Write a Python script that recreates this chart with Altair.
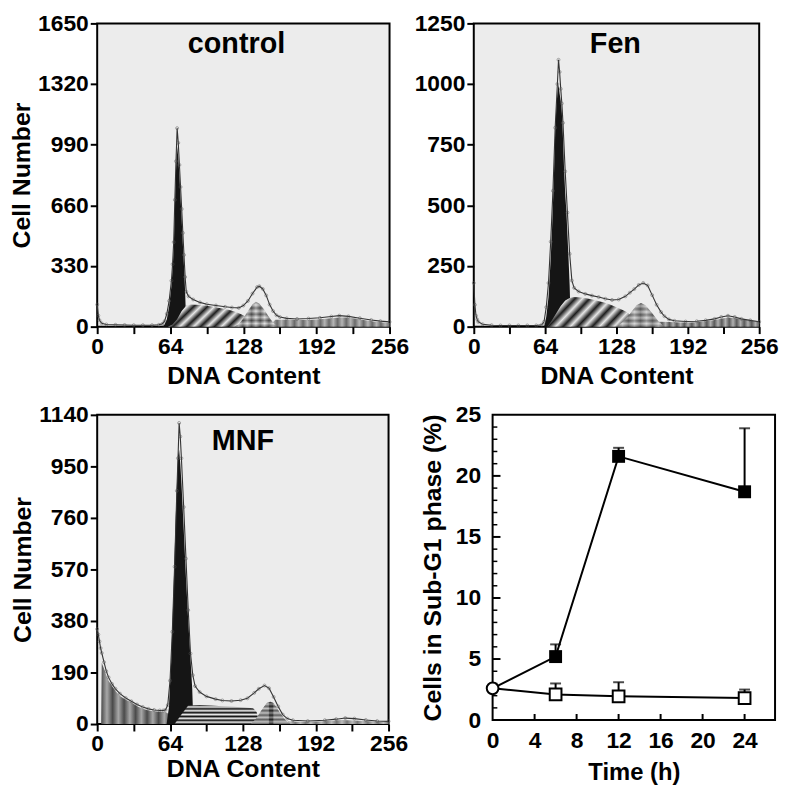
import altair as alt
import pandas as pd

FONT = "Liberation Sans"
BG = "#ececec"

# ---------------- data ----------------
# control histogram (channel, cell count)
CTRL_RAW = [(0,120),(1,60),(2,35),(4,18),(8,12),(16,10),(24,9),(32,8),(40,8),(48,8),(54,10),(57,15),(59,30),(61,70),(63,140),
            (65,250),(66,340),(67,460),(68,690),(69,900),(70,1080),(71,1000),(72,880),(73,760),(74,640),(75,510),(76,390),
            (77,270),(78,190),(80,165),(84,148),(90,132),(96,122),(104,115),(112,108),(118,104),(124,102),(128,115),
            (132,140),(136,180),(140,215),(142,220),(145,205),(148,170),(151,120),(154,85),(157,62),(160,52),(166,45),
            (175,42),(185,44),(195,48),(205,55),(212,60),(220,56),(230,46),(240,36),(248,30),(256,26)]
CTRL_G1 = [(57,0),(59,12),(61,40),(63,110),(65,220),(66,310),(67,420),(68,650),(69,850),(70,980),(71,920),(72,820),
           (73,700),(74,580),(75,450),(76,330),(77,190),(78,0)]
CTRL_S = [(62,0),(66,12),(70,40),(74,85),(78,115),(82,120),(90,118),(100,110),(108,100),(116,90),(122,78),(126,68),
          (130,55),(134,38),(138,18),(142,0)]
CTRL_G2 = [(120,0),(124,15),(128,45),(132,85),(136,120),(139,135),(142,125),(146,95),(150,55),(154,22),(158,0)]
CTRL_DEB = [(150,0),(156,38),(165,38),(175,36),(185,36),(195,40),(205,46),(212,50),(218,50),(224,46),(232,38),
            (240,30),(248,24),(256,20)]

# Fen histogram
FEN_RAW = [(0,180),(1,90),(2,45),(3,30),(4,20),(8,10),(16,6),(24,5),(32,5),(40,5),(48,5),(56,5),(61,8),(63,20),
           (65,80),(67,180),(69,350),(71,560),(73,820),(75,1000),(76,1100),(77,1050),(78,980),(79,920),(80,840),
           (82,640),(84,470),(86,300),(88,190),(90,160),(94,145),(100,135),(106,128),(112,122),(118,115),(124,110),
           (130,112),(136,125),(140,140),(144,155),(148,172),(152,180),(156,170),(160,130),(164,90),(168,60),
           (171,43),(175,30),(180,24),(190,21),(200,22),(208,26),(216,32),(222,40),(228,45),(234,40),(240,32),
           (248,26),(256,20)]
FEN_G1 = [(63,0),(65,40),(67,120),(69,280),(70,380),(71,500),(72,640),(73,800),(74,900),(75,960),(76,1000),(77,960),
          (78,930),(79,880),(80,780),(81,650),(82,550),(83,480),(84,380),(85,280),(86,170),(87,0)]
FEN_S = [(66,0),(70,25),(74,55),(78,85),(82,108),(86,118),(90,122),(100,118),(110,108),(120,95),(128,80),(134,68),
         (138,58),(142,40),(146,15),(150,0)]
FEN_G2 = [(128,0),(134,20),(140,52),(146,88),(150,97),(154,88),(160,55),(166,20),(171,0)]
FEN_DEB = [(162,0),(166,20),(175,19),(185,17),(195,17),(205,20),(215,26),(222,33),(228,38),(235,35),(245,27),(256,19)]

# MNF histogram
MNF_RAW = [(0,350),(1,330),(2,305),(3,280),(4,262),(6,228),(8,195),(10,172),(13,148),(16,130),(20,112),(25,96),
           (30,84),(35,72),(40,63),(45,56),(50,52),(55,50),(58,50),(60,52),(62,70),(64,160),(66,340),(68,580),
           (70,860),(71,980),(72,1110),(73,1060),(74,980),(76,800),(78,610),(80,420),(82,260),(84,180),(86,140),
           (90,118),(96,102),(104,92),(110,87),(118,85),(126,88),(132,95),(138,115),(142,130),(147,142),(151,132),
           (155,100),(159,65),(163,35),(167,20),(172,14),(185,11),(200,14),(210,18),(218,22),(226,20),(236,15),
           (246,11),(256,10)]
MNF_SUB = [(3.5,0),(4,225),(6,205),(8,180),(10,160),(13,140),(16,122),(20,103),(25,90),(30,80),(35,66),(40,56),
           (45,50),(50,47),(55,45),(60,44),(62,40),(64,0)]
MNF_G1 = [(61,0),(63,60),(65,230),(67,480),(69,760),(71,990),(72,1010),(73,960),(74,890),(76,720),(78,540),
          (80,380),(82,240),(83.5,130),(84.5,0)]
MNF_S = [(68,0),(74,35),(80,68),(90,70),(100,68),(110,66),(120,64),(130,61),(137,58),(140,45),(143,0)]
MNF_G2 = [(135,0),(140,22),(145,55),(149,78),(152,82),(155,78),(158,58),(162,32),(166,12),(170,0)]
MNF_DEB = [(165,0),(168,10),(180,8),(200,10),(215,15),(230,12),(245,9),(256,8)]

CTRL_TICKS = [0, 330, 660, 990, 1320, 1650]
FEN_TICKS = [0, 250, 500, 750, 1000, 1250]
MNF_TICKS = [0, 190, 380, 570, 760, 950, 1140]
CH_TICKS = [0, 32, 64, 96, 128, 160, 192, 224, 256]

# time course of sub-G1 cells (%)
TIME_H = [0, 6, 12, 24]
TREAT_MEAN = [2.6, 5.2, 21.6, 18.7]
TREAT_UPPER = [2.6, 6.2, 22.3, 23.9]
CTRL_MEAN = [2.6, 2.1, 1.95, 1.8]
CTRL_UPPER = [2.6, 3.0, 3.1, 2.5]
T_TICKS = [0, 4, 8, 12, 16, 20, 24]
P_TICKS = [0, 5, 10, 15, 20, 25]
P_MINOR = [v for v in range(1, 25) if v % 5 != 0]


# ---------------- styling helpers ----------------
def stripes(c1, c2, n, x2, y2, x1=0, y1=0):
    stops = []
    for i in range(n):
        stops.append({"offset": i / n, "color": c1})
        stops.append({"offset": (i + 0.5) / n, "color": c2})
    stops.append({"offset": 1, "color": c1})
    return {"gradient": "linear", "x1": x1, "y1": y1, "x2": x2, "y2": y2, "stops": stops}


def df(pairs):
    return pd.DataFrame(pairs, columns=["ch", "n"])


def hist_panel(raw, layers, ymax, yticks, label, label_pos, w, h, ytitle, xtitle_pad):
    xs = alt.X("ch:Q", scale=alt.Scale(domain=[0, 256], nice=False, zero=False),
               axis=alt.Axis(values=CH_TICKS, labelExpr="datum.value % 64 == 0 ? datum.label : ''",
                             format="d", labelFlush=False, labelOverlap=False,
                             tickSize=7, tickWidth=2, tickColor="black", domain=False, grid=False,
                             labelFont=FONT, labelFontSize=23, labelFontWeight="bold", labelColor="black",
                             labelPadding=2, titleFont=FONT, titleFontSize=25, titleFontWeight="bold",
                             titleColor="black", titlePadding=xtitle_pad),
               title="DNA Content")
    ys = alt.Y("n:Q", scale=alt.Scale(domain=[0, ymax], nice=False, clamp=True),
               axis=alt.Axis(values=yticks, format="d", labelFlush=False, labelOverlap=False,
                             tickSize=7, tickWidth=2, tickColor="black", domain=False, grid=False,
                             labelFont=FONT, labelFontSize=23, labelFontWeight="bold", labelColor="black",
                             labelPadding=2, titleFont=FONT, titleFontSize=25, titleFontWeight="bold",
                             titleColor="black", titlePadding=3),
               title=ytitle)
    charts = []
    for pairs, fill, op in layers:
        charts.append(alt.Chart(df(pairs)).mark_area(color=fill, opacity=op, interpolate="linear")
                      .encode(x=xs, y=ys))
    charts.append(alt.Chart(df(raw)).mark_line(color="#333", strokeWidth=1.1).encode(x=xs, y=ys))
    charts.append(alt.Chart(df(raw)).mark_point(shape="circle", size=9, filled=False, color="#555",
                                                strokeWidth=0.7).encode(x=xs, y=ys))
    t = pd.DataFrame({"ch": [label_pos[0]], "n": [label_pos[1]], "label": [label]})
    charts.append(alt.Chart(t).mark_text(font=FONT, fontSize=29, fontWeight="bold", color="black")
                  .encode(x=xs, y=ys, text="label:N"))
    return alt.layer(*charts).properties(
        width=w, height=h, view=alt.ViewBackground(fill=BG, stroke="black", strokeWidth=2))


BLACK = "#151515"
ctrl_layers = [
    (CTRL_DEB, stripes("#6a6a6a", "#b5b5b5", 14, 1, 0), 1),
    (CTRL_G1, BLACK, 1),
    (CTRL_S, stripes("#1e1e1e", "#e6e6e6", 7, 1, 0.25), 1),
    (CTRL_G2, stripes("#555", "#d8d8d8", 5, 1, 0), 1),
    (CTRL_G2, stripes("#333", "#f0f0f0", 4, 0, 1), 0.45),
]
fen_layers = [
    (FEN_DEB, stripes("#5a5a5a", "#b0b0b0", 14, 1, 0), 1),
    (FEN_G1, BLACK, 1),
    (FEN_S, stripes("#1e1e1e", "#e6e6e6", 7, 1, 0.3), 1),
    (FEN_G2, stripes("#666", "#cfcfcf", 4, 1, 0), 1),
    (FEN_G2, stripes("#333", "#f0f0f0", 4, 0, 1), 0.4),
]
mnf_layers = [
    (MNF_SUB, stripes("#4a4a4a", "#a8a8a8", 6, 1, 0), 1),
    (MNF_DEB, stripes("#777", "#bbb", 10, 1, 0), 1),
    (MNF_G1, BLACK, 1),
    (MNF_S, stripes("#111", "#ececec", 5, 0, 1), 1),
    (MNF_G2, stripes("#333", "#e0e0e0", 5, 0, 1), 1),
    (MNF_G2, {"gradient": "linear", "x1": 0, "y1": 0, "x2": 1, "y2": 0,
              "stops": [{"offset": 0, "color": "#999"}, {"offset": 0.44, "color": "#999"},
                        {"offset": 0.47, "color": "#111"}, {"offset": 0.55, "color": "#111"},
                        {"offset": 0.58, "color": "#999"}, {"offset": 1, "color": "#999"}]}, 0.45),
]

p1 = hist_panel(CTRL_RAW, ctrl_layers, 1650, CTRL_TICKS, "control", (122, 1540), 295, 306, "Cell Number", 5)
p2 = hist_panel(FEN_RAW, fen_layers, 1250, FEN_TICKS, "Fen", (127, 1165), 288, 306, "", 5)
p3 = hist_panel(MNF_RAW, mnf_layers, 1140, MNF_TICKS, "MNF", (128, 1045), 294, 312, "Cell Number", 1)

# ---------------- time-course panel ----------------
XMAX = 26.9
tx = alt.X("t:Q", scale=alt.Scale(domain=[0, XMAX], nice=False, zero=False),
           axis=alt.Axis(values=T_TICKS, labelFlush=False, tickSize=0, domain=False, grid=False, labelFont=FONT,
                         labelFontSize=23, labelFontWeight="bold", labelColor="black", labelPadding=10,
                         titleFont=FONT, titleFontSize=24, titleFontWeight="bold", titleColor="black",
                         titlePadding=8),
           title="Time (h)")
ty = alt.Y("v:Q", scale=alt.Scale(domain=[0, 25], nice=False),
           axis=alt.Axis(values=P_TICKS, labelFlush=False, tickSize=0, domain=False, grid=False, labelFont=FONT,
                         labelFontSize=23, labelFontWeight="bold", labelColor="black", labelPadding=12,
                         titleFont=FONT, titleFontSize=25, titleFontWeight="bold", titleColor="black",
                         titlePadding=10),
           title="Cells in Sub-G1 phase (%)")

tc = pd.DataFrame({
    "t": TIME_H * 2,
    "v": TREAT_MEAN + CTRL_MEAN,
    "up": TREAT_UPPER + CTRL_UPPER,
    "series": ["treated"] * 4 + ["control"] * 4,
})
pts = tc[tc["t"] > 0]
capdf = pd.DataFrame({"t": pts["t"], "v": pts["up"]})

lines = alt.Chart(tc).mark_line(color="black", strokeWidth=2).encode(x=tx, y=ty, detail="series:N")
err = alt.Chart(pts).mark_rule(color="black", strokeWidth=2).encode(x=tx, y=ty, y2="up:Q")
caps = alt.Chart(capdf).mark_tick(orient="horizontal", size=11, thickness=2, color="black").encode(x=tx, y=ty)
filled = alt.Chart(pts[pts["series"] == "treated"]).mark_point(
    shape="square", size=170, filled=True, color="black", opacity=1).encode(x=tx, y=ty)
opened = alt.Chart(pts[pts["series"] == "control"]).mark_point(
    shape="square", size=140, filled=True, fill="white", stroke="black", strokeWidth=2, opacity=1).encode(x=tx, y=ty)
origin = alt.Chart(tc[(tc["t"] == 0) & (tc["series"] == "control")]).mark_point(
    shape="circle", size=140, filled=True, fill="white", stroke="black", strokeWidth=2, opacity=1).encode(x=tx, y=ty)

ymaj = pd.DataFrame({"v": P_TICKS[1:-1], "t": [0] * 4, "t2": [0.75] * 4})
ymin = pd.DataFrame({"v": P_MINOR, "t": [0] * len(P_MINOR), "t2": [0.45] * len(P_MINOR)})
xmaj = pd.DataFrame({"t": T_TICKS[1:], "v": [0] * 6, "v2": [0.5] * 6})
ytick_major = alt.Chart(ymaj).mark_rule(color="black", strokeWidth=2).encode(x=tx, x2="t2:Q", y=ty)
ytick_minor = alt.Chart(ymin).mark_rule(color="black", strokeWidth=1.5).encode(x=tx, x2="t2:Q", y=ty)
xtick = alt.Chart(xmaj).mark_rule(color="black", strokeWidth=2).encode(x=tx, y=ty, y2="v2:Q")

p4 = alt.layer(lines, ytick_major, ytick_minor, xtick, err, caps, filled, opened, origin).properties(
    width=285, height=308, view=alt.ViewBackground(fill="white", stroke="black", strokeWidth=2))

row1 = alt.hconcat(p1, p2, spacing=2)
row2 = alt.hconcat(p3, p4, spacing=10)
chart = alt.vconcat(row1, row2, spacing=14).properties(padding=0).configure(background="white")

chart.save("out.html", embed_options={"renderer": "svg", "actions": False})
